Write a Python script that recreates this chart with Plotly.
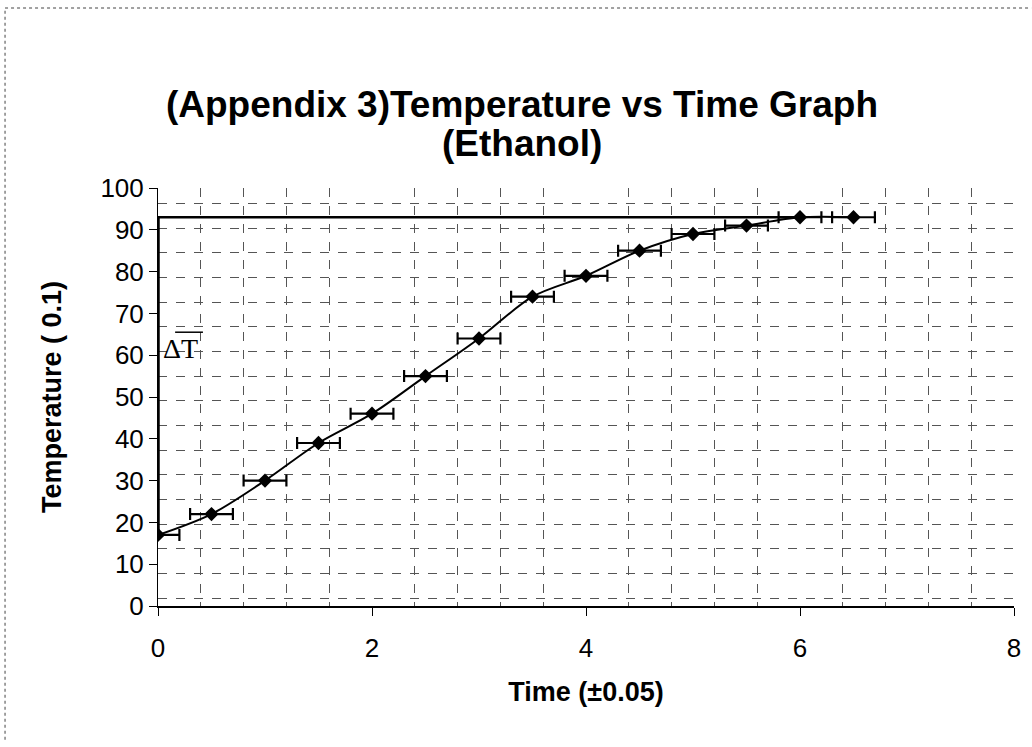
import plotly.graph_objects as go

# ---- data ----
times = [0, 0.5, 1, 1.5, 2, 2.5, 3, 3.5, 4, 4.5, 5, 5.5, 6, 6.5]
temps = [17, 22, 30, 39, 46, 55, 64, 74, 79, 85, 89, 91, 93, 93]
time_err = [0.2] * len(times)

title_line1 = "(Appendix 3)Temperature vs Time Graph"
title_line2 = "(Ethanol)"
x_title = "Time (±0.05)"
y_title = "Temperature ( 0.1)"
delta_label = "ΔT"

FONT = "Liberation Sans, Arial, sans-serif"
H = 747

fig = go.Figure()

fig.add_trace(go.Scatter(
    x=times, y=temps,
    mode="lines+markers",
    line=dict(color="black", width=2, shape="spline", smoothing=0.9),
    marker=dict(symbol="diamond", size=11, color="black"),
    error_x=dict(type="data", array=time_err, visible=True,
                 color="black", thickness=2.2, width=6),
    showlegend=False,
))

# Delta T construction lines (from data)
i_max = temps.index(max(temps))
fig.add_shape(type="line", xref="x", yref="y",
              x0=times[0], x1=times[0], y0=temps[0], y1=max(temps),
              line=dict(color="black", width=3.5))
fig.add_shape(type="line", xref="x", yref="y",
              x0=times[0], x1=times[i_max], y0=max(temps), y1=max(temps),
              line=dict(color="black", width=2.5))

fig.add_annotation(x=0.03, y=61.5, xref="x", yref="y", text=delta_label,
                   showarrow=False, xanchor="left", yanchor="middle",
                   font=dict(family="Liberation Serif, serif", size=28, color="black"))
fig.add_shape(type="line", xref="x", yref="y", x0=0.16, x1=0.42, y0=65.5, y1=65.5,
              line=dict(color="black", width=1.5))

# second title line
fig.add_annotation(xref="paper", yref="paper", x=(522 - 158) / 856, y=(606 - 143) / 418,
                   text="<b>" + title_line2 + "</b>", showarrow=False,
                   xanchor="center", yanchor="middle",
                   font=dict(family=FONT, size=37, color="black"))

# outer scan border (left and top)
fig.add_shape(type="line", xref="paper", yref="paper",
              x0=-0.1787, x1=-0.1787, y0=-0.32, y1=1.4306,
              line=dict(color="#444", width=1, dash="dot"))
fig.add_shape(type="line", xref="paper", yref="paper",
              x0=-0.1787, x1=1.02, y0=1.4306, y1=1.4306,
              line=dict(color="#444", width=1, dash="dot"))

grid_style = dict(showgrid=True, gridcolor="#555555", gridwidth=1, griddash="dash")

fig.update_xaxes(
    range=[0, 8], dtick=2, tick0=0,
    showgrid=False, zeroline=False,
    showline=True, linecolor="black", linewidth=1.5,
    ticks="outside", ticklen=8, tickcolor="black", ticklabelstandoff=10,
    tickfont=dict(family=FONT, size=26, color="black"),
    title=dict(text="<b>" + x_title + "</b>", font=dict(family=FONT, size=27, color="black"),
               standoff=20),
    minor=dict(dtick=0.4, tick0=0, ticks="", **grid_style),
)
fig.update_yaxes(
    range=[0, 100], dtick=10, tick0=0,
    showgrid=False, zeroline=False,
    showline=True, linecolor="black", linewidth=1,
    ticks="outside", ticklen=8, tickcolor="black",
    tickfont=dict(family=FONT, size=26, color="black"),
    title=dict(text="<b>" + y_title + "</b>", font=dict(family=FONT, size=27, color="black"),
               standoff=30),
    minor=dict(dtick=5.9, tick0=1.9, ticks="", **grid_style),
)

fig.update_layout(
    width=1032, height=H,
    margin=dict(l=158, r=18, t=188, b=141),
    paper_bgcolor="white", plot_bgcolor="white",
    font=dict(family=FONT, color="black"),
    title=dict(text="<b>" + title_line1 + "</b>", x=522 / 1032, xanchor="center",
               y=1 - 104 / H, yanchor="middle",
               font=dict(family=FONT, size=37, color="black")),
)

fig.write_html("out.html", config={"displayModeBar": False},
               post_script="document.body.style.margin='0';")
